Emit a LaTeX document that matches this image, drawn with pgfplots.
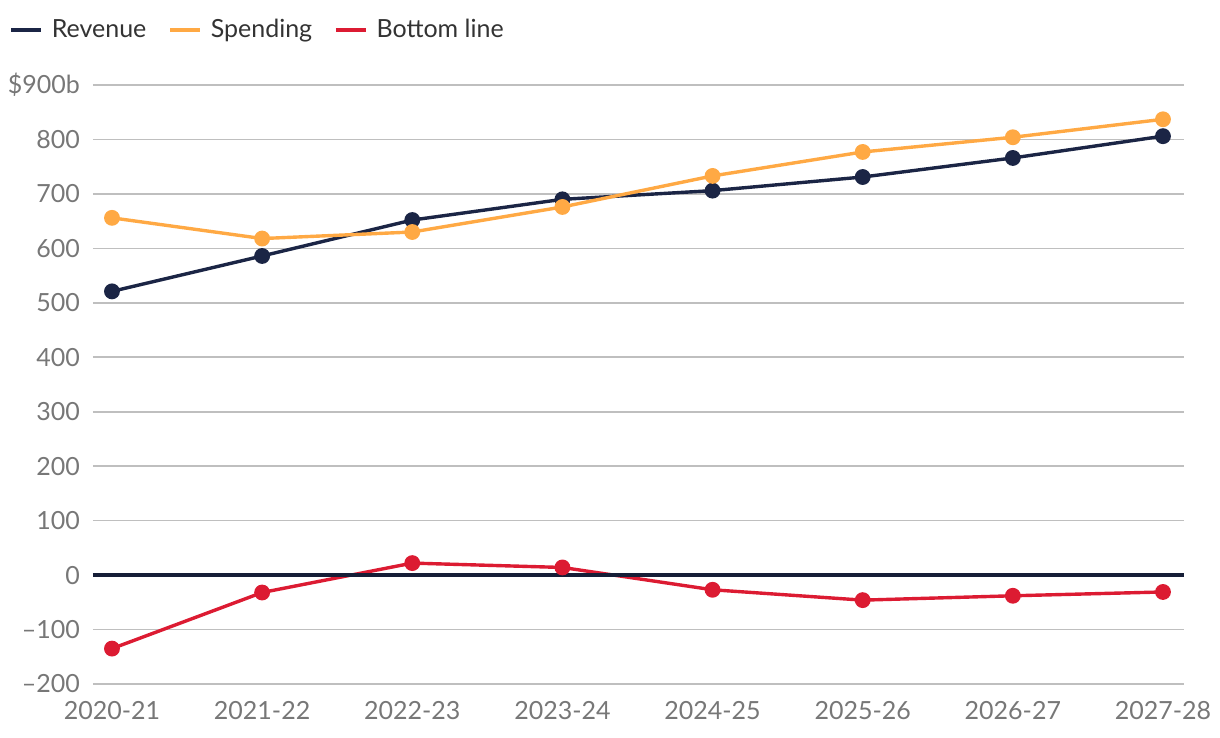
\documentclass[border=0pt]{standalone}
\usepackage{fontspec}
\setmainfont{Lato}
\usepackage{pgfplots}
\pgfplotsset{compat=1.18}
\definecolor{rev}{HTML}{1B2545}
\definecolor{spend}{HTML}{FFA944}
\definecolor{bl}{HTML}{DC1B32}
\definecolor{tick}{HTML}{777777}
\definecolor{grid}{HTML}{E6E6E6}
\begin{document}
\begin{tikzpicture}
\begin{axis}[
  at={(0,0)}, anchor=south west,
  scale only axis, width=545.5pt, height=299.5pt,
  xmin=-0.1265, xmax=7.14, ymin=-200, ymax=900,
  axis line style={draw=none},
  major tick length=0pt,
  ytick={-200,-100,...,900},
  yticklabels={–200,–100,0,100,200,300,400,500,600,700,800,\$900b},
  xtick={0,...,7},
  xticklabels={2020-21,2021-22,2022-23,2023-24,2024-25,2025-26,2026-27,2027-28},
  xmajorgrids=false, ymajorgrids=true, grid style={grid, line width=0.8pt},
  tick label style={font=\fontsize{12.5}{14}\selectfont, text=tick},
  yticklabel style={anchor=east, xshift=-3pt},
  xticklabel style={anchor=north, yshift=-5pt},
  legend columns=-1,
  legend style={at={(-0.0825,1.0918)}, anchor=west, draw=none, fill=none,
    font=\fontsize{12.5}{14}\selectfont, text=black!80,
    /tikz/every odd column/.append style={column sep=2.5pt},
    /tikz/every even column/.append style={column sep=9pt}},
  legend image code/.code={\draw[#1, mark=none, line width=1.7pt] (0pt,0pt) -- (15pt,0pt);},
  clip=false,
]
\addplot[rev, line width=1.7pt, mark=*, mark size=3.1pt] coordinates {
(0,521) (1,586) (2,652) (3,690) (4,706) (5,731) (6,766) (7,806)};
\addlegendentry{Revenue}
\addplot[spend, line width=1.7pt, mark=*, mark size=3.1pt] coordinates {
(0,656) (1,618) (2,630) (3,676) (4,733) (5,777) (6,804) (7,837)};
\addlegendentry{Spending}
\addplot[bl, line width=1.7pt, mark=*, mark size=3.1pt] coordinates {
(0,-135) (1,-32) (2,22) (3,14) (4,-27) (5,-46) (6,-38) (7,-31)};
\addlegendentry{Bottom line}
\addplot[rev!80!black, line width=1.9pt, forget plot] coordinates {(-0.1265,0) (7.14,0)};
\end{axis}
\pgfresetboundingbox
\path (-46.5pt,-27pt) rectangle (563.5pt,342pt);
\end{tikzpicture}
\end{document}
